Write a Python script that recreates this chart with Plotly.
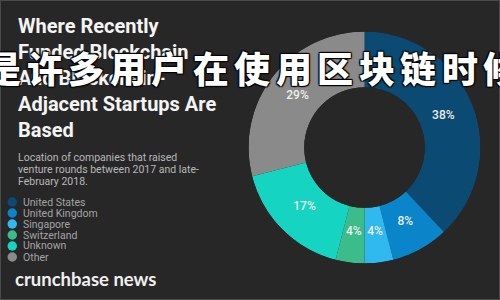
import plotly.graph_objects as go

# ---- data ----
labels = ["United States", "United Kingdom", "Singapore", "Switzerland", "Unknown", "Other"]
shares = [38, 8, 4, 4, 17, 29]
colors = ["#0b4a72", "#0a85c9", "#30b9ee", "#3cbc8a", "#15d4c2", "#8a8a8a"]

title_lines = ["Where Recently", "Funded Blockchain", "And Blockchain-", "Adjacent Startups Are", "Based"]
subtitle_lines = ["Location of companies that raised", "venture rounds between 2017 and late-", "February 2018."]
brand = "crunchbase news"
overlay_chars = list("是许多用户在使用区块链时候")

W, H = 500, 300
BG = "#272727"

def px(x):
    return x / W

def py(y):
    return 1 - y / H

cx, cy, r = 364.5, 147.5, 116
dom = dict(x=[px(cx - r), px(cx + r)], y=[py(cy + r), py(cy - r)])

# donut drawn as polar bars on a clockwise angular axis starting at 12 o'clock
total = sum(shares)
mid_angles, widths = [], []
acc = 0
for v in shares:
    mid_angles.append((acc + v / 2) / total * 360)
    widths.append(v / total * 360)
    acc += v

fig = go.Figure()
fig.add_trace(go.Barpolar(
    theta=mid_angles, r=[1] * len(shares), width=widths,
    marker=dict(color=colors, line=dict(width=0)),
    customdata=labels, hovertemplate="%{customdata}<extra></extra>",
    showlegend=False,
))
fig.add_trace(go.Scatterpolar(
    theta=mid_angles, r=[0.44] * len(shares), mode="text",
    text=[f"{v}%" for v in shares],
    textfont=dict(family="Roboto", size=12, color="#eeeeee", weight=500),
    showlegend=False, hoverinfo="skip",
))

annotations = []
annotations.append(dict(
    text="<br>".join(title_lines), x=px(16), y=py(12), xref="paper", yref="paper",
    xanchor="left", yanchor="top", align="left", showarrow=False,
    font=dict(family="Roboto", size=20, color="#f4f4f4", weight="bold"),
))
for i, line in enumerate(subtitle_lines):
    annotations.append(dict(
        text=line, x=px(15.5), y=py(157 + 12 * i), xref="paper", yref="paper",
        xanchor="left", yanchor="middle", align="left", showarrow=False,
        font=dict(family="Roboto", size=10.5, color="#b8b8b8"),
    ))

shapes = []
for i, (lab, col) in enumerate(zip(labels, colors)):
    yc = 202 + 11 * i
    shapes.append(dict(type="circle", xref="paper", yref="paper",
                       x0=px(7.5), x1=px(17), y0=py(yc + 4.7), y1=py(yc - 4.7),
                       fillcolor=col, line=dict(width=0)))
    annotations.append(dict(
        text=lab, x=px(21), y=py(yc), xref="paper", yref="paper",
        xanchor="left", yanchor="middle", showarrow=False,
        font=dict(family="Roboto", size=10.5, color="#a4a4a4"),
    ))

annotations.append(dict(
    text=brand, x=px(13), y=py(279), xref="paper", yref="paper",
    xanchor="left", yanchor="middle", showarrow=False,
    font=dict(family="Lato", size=18.5, color="#f0f0f0", weight="bold"),
))

for i, ch in enumerate(overlay_chars):
    annotations.append(dict(
        text=ch, x=px(3 + 41.5 * i), y=py(67), xref="paper", yref="paper",
        xanchor="center", yanchor="middle", showarrow=False,
        font=dict(family="Noto Sans CJK SC", size=36, color="#ffffff", weight=900,
                  shadow="1px 1px 1px #000, -1px -1px 1px #000, 1px -1px 1px #000, -1px 1px 1px #000"),
    ))

shapes.append(dict(type="rect", xref="paper", yref="paper", x0=0, x1=1, y0=0, y1=1,
                   line=dict(color="#4a4a4a", width=2), fillcolor="rgba(0,0,0,0)"))

fig.update_layout(
    width=W, height=H, margin=dict(l=0, r=0, t=0, b=0),
    paper_bgcolor=BG, plot_bgcolor=BG,
    polar=dict(
        domain=dom, bgcolor="rgba(0,0,0,0)", hole=0.52,
        angularaxis=dict(rotation=90, direction="clockwise", visible=False,
                         showgrid=False, showline=False, ticks=""),
        radialaxis=dict(range=[0, 1], visible=False, showgrid=False, showline=False),
    ),
    annotations=annotations, shapes=shapes,
)

fig.write_html("out.html")
